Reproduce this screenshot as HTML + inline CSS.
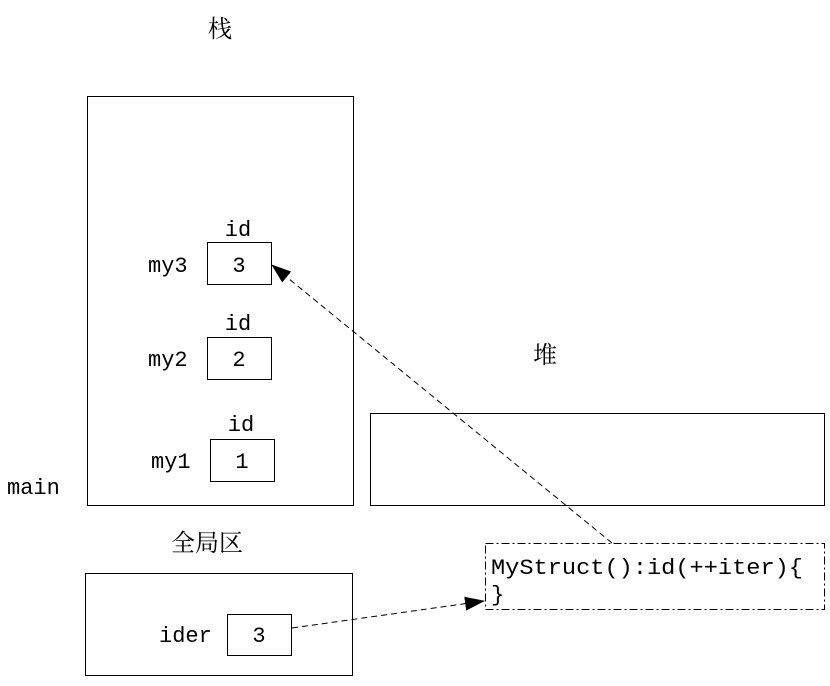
<!DOCTYPE html>
<html><head><meta charset="utf-8"><style>
html,body{margin:0;padding:0;background:#fff;width:830px;height:686px;overflow:hidden}
svg text{font-family:"Liberation Mono","Noto Serif CJK SC",monospace;font-size:22px;fill:#000}
.cjk{font-family:"Noto Serif CJK SC","Noto Sans CJK SC",serif;font-size:24px}
</style></head><body>
<svg width="830" height="686" viewBox="0 0 830 686" xmlns="http://www.w3.org/2000/svg">
<defs><marker id="ah" markerWidth="20" markerHeight="14" refX="19" refY="7" orient="auto" markerUnits="userSpaceOnUse"><path d="M0,0 L20,7 L0,14 Z" fill="#000"/></marker></defs>
<g fill="none" stroke="#000" stroke-width="1">
<rect x="87.5" y="96.5" width="266" height="409"/>
<rect x="207.5" y="242.5" width="64" height="42"/>
<rect x="207.5" y="337.5" width="64" height="42"/>
<rect x="210.5" y="439.5" width="64" height="42"/>
<rect x="370.5" y="413.5" width="454" height="92"/>
<rect x="85.5" y="573.5" width="267" height="102"/>
<rect x="227.5" y="614.5" width="64" height="41"/>
<rect x="485.5" y="543.5" width="339" height="66" stroke-dasharray="8,3,2,3"/>
<line x1="612" y1="543" x2="272" y2="265" stroke-dasharray="6,4" marker-end="url(#ah)"/>
<line x1="292" y1="628" x2="484" y2="601" stroke-dasharray="6,4" marker-end="url(#ah)"/>
</g>
<text class="cjk" x="220" y="37" text-anchor="middle">栈</text>
<text class="cjk" x="545" y="363" text-anchor="middle">堆</text>
<text class="cjk" x="207" y="551" text-anchor="middle">全局区</text>
<text x="238" y="236" text-anchor="middle">id</text>
<text x="239" y="272" text-anchor="middle">3</text>
<text x="148" y="272">my3</text>
<text x="238" y="330" text-anchor="middle">id</text>
<text x="239" y="366" text-anchor="middle">2</text>
<text x="148" y="366">my2</text>
<text x="241" y="431" text-anchor="middle">id</text>
<text x="242" y="468" text-anchor="middle">1</text>
<text x="151" y="468">my1</text>
<text x="7" y="494">main</text>
<text x="159" y="642">ider</text>
<text x="259" y="642" text-anchor="middle">3</text>
<text x="491" y="574" textLength="312" lengthAdjust="spacingAndGlyphs">MyStruct():id(++iter){</text>
<text x="491" y="601">}</text>
</svg>
</body></html>
